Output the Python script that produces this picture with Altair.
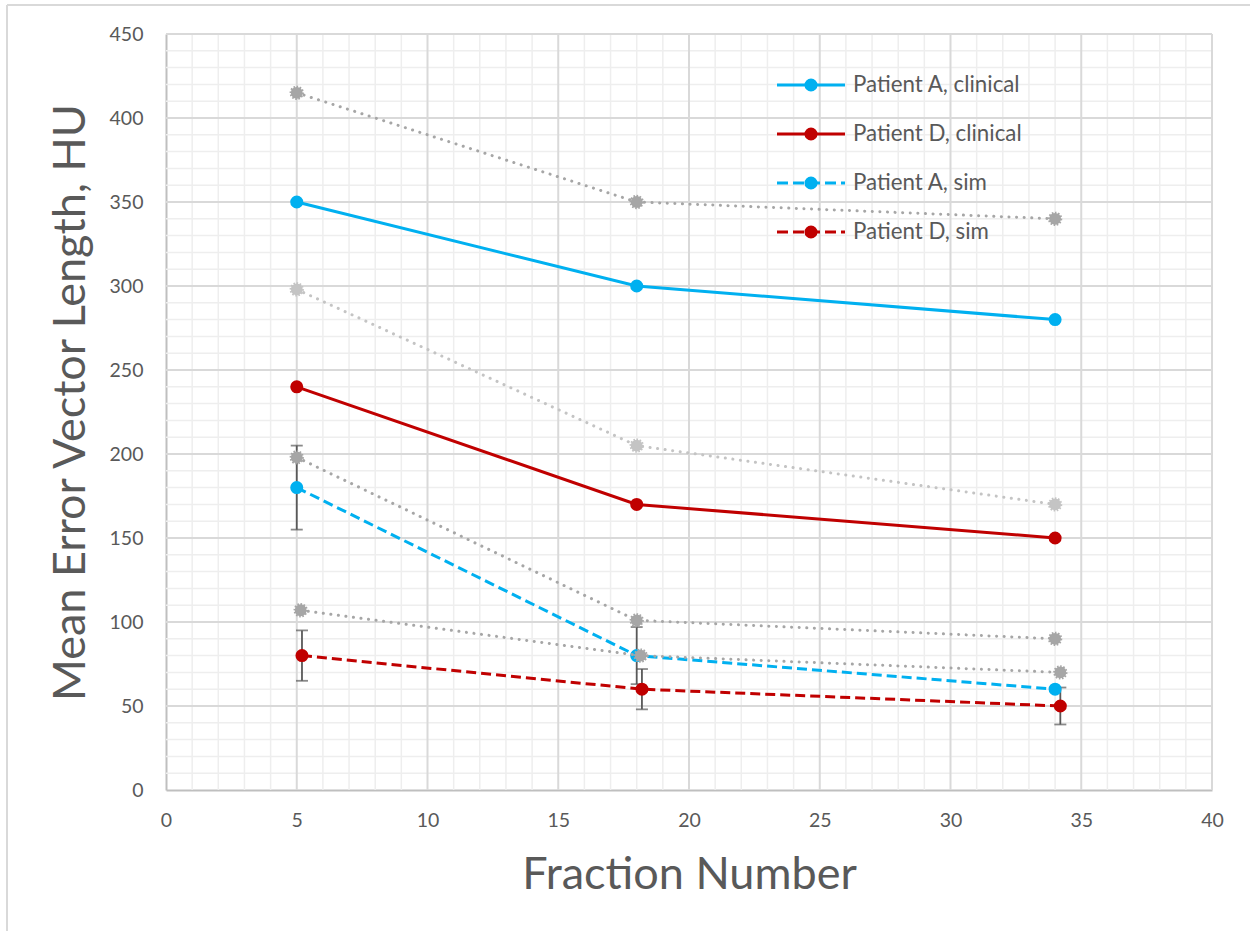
import altair as alt
import pandas as pd

# ---- data ---------------------------------------------------------------
fractions = [5, 18, 34]
patient_a_clinical = [350, 300, 280]
patient_d_clinical = [240, 170, 150]

sim_a_x = [5, 18, 34]
patient_a_sim = [180, 80, 60]
patient_a_sim_err = [25, 17, 0]

sim_d_x = [5.2, 18.2, 34.2]
patient_d_sim = [80, 60, 50]
patient_d_sim_err = [15, 12, 11]

ref_x = [5, 18, 34]
ref_x_shift = [5.15, 18.15, 34.2]
ref_1 = [415, 350, 340]
ref_2 = [298, 205, 170]
ref_3 = [198, 101, 90]
ref_4 = [107, 80, 70]

legend_names = ["Patient A, clinical", "Patient D, clinical",
                "Patient A, sim", "Patient D, sim"]

x_ticks = list(range(0, 41, 5))
y_ticks = list(range(0, 451, 50))

# ---- styling ------------------------------------------------------------
BLUE = "#00B0F0"
RED = "#C00000"
GREY = "#A6A6A6"
GREY_LIGHT = "#C4C4C4"
TEXT = "#595959"
FONT = "Lato"

W, H = 1046, 756
PAD = {"left": 166, "top": 34, "right": 38, "bottom": 141}

xs = alt.Scale(domain=[0, 40], nice=False, zero=False)
ys = alt.Scale(domain=[0, 450], nice=False, zero=False)

X_AXIS = alt.Axis(
    values=x_ticks, title="Fraction Number", grid=False, ticks=False,
    domainColor="#BFBFBF", domainWidth=2, labelFontSize=19.5, labelColor=TEXT,
    labelFont=FONT, labelPadding=21, labelFlush=False, titleFont=FONT,
    titleFontSize=45, titleFontWeight="normal", titleColor=TEXT, titlePadding=23)
Y_AXIS = alt.Axis(
    values=y_ticks, title="Mean Error Vector Length, HU", grid=False, ticks=False,
    domainColor="#BFBFBF", domainWidth=2, labelFontSize=19.5, labelColor=TEXT,
    labelFont=FONT, labelPadding=23, labelFlush=False, titleFont=FONT,
    titleFontSize=45, titleFontWeight="normal", titleColor=TEXT, titlePadding=16,
    titleY=368)


def frame(xv, yv, err=None):
    d = pd.DataFrame({"x": xv, "y": yv})
    if err is not None:
        d["err"] = err
        d["lo"] = [a - e for a, e in zip(yv, err)]
        d["hi"] = [a + e for a, e in zip(yv, err)]
        d = d[d["err"] > 0]
    return d


def xenc(field="x"):
    return alt.X(f"{field}:Q", scale=xs, axis=X_AXIS)


def yenc(field="y"):
    return alt.Y(f"{field}:Q", scale=ys, axis=Y_AXIS)


# ---- gridlines ----------------------------------------------------------
minor_x = [v for v in range(0, 41) if v % 5]
minor_y = [v for v in range(0, 451, 10) if v % 50]

grid = [
    alt.Chart(pd.DataFrame({"x": minor_x})).mark_rule(color="#EEEEEE", strokeWidth=1.5)
    .encode(x=xenc()),
    alt.Chart(pd.DataFrame({"y": minor_y})).mark_rule(color="#EEEEEE", strokeWidth=1.5)
    .encode(y=yenc()),
    alt.Chart(pd.DataFrame({"x": x_ticks[1:]})).mark_rule(color="#D9D9D9", strokeWidth=2)
    .encode(x=xenc()),
    alt.Chart(pd.DataFrame({"y": y_ticks[1:]})).mark_rule(color="#D9D9D9", strokeWidth=2)
    .encode(y=yenc()),
]


# ---- series -------------------------------------------------------------
def solid_series(xv, yv, color):
    d = frame(xv, yv)
    line = alt.Chart(d).mark_line(color=color, strokeWidth=3).encode(x=xenc(), y=yenc())
    pts = alt.Chart(d).mark_circle(color=color, size=170, opacity=1).encode(x=xenc(), y=yenc())
    return [line, pts]


def dashed_series(xv, yv, color):
    d = frame(xv, yv)
    line = alt.Chart(d).mark_line(color=color, strokeWidth=3, strokeDash=[10, 5]).encode(x=xenc(), y=yenc())
    pts = alt.Chart(d).mark_circle(color=color, size=170, opacity=1).encode(x=xenc(), y=yenc())
    return [line, pts]


def error_bars(xv, yv, err):
    d = frame(xv, yv, err)
    stem = alt.Chart(d).mark_rule(color=TEXT, strokeWidth=1.8).encode(
        x=xenc(), y=yenc("lo"), y2="hi:Q")
    cap_lo = alt.Chart(d).mark_tick(color=TEXT, orient="horizontal", size=12, thickness=1.8).encode(
        x=xenc(), y=yenc("lo"))
    cap_hi = alt.Chart(d).mark_tick(color=TEXT, orient="horizontal", size=12, thickness=1.8).encode(
        x=xenc(), y=yenc("hi"))
    return [stem, cap_lo, cap_hi]


def dotted_series(xv, yv, color):
    d = frame(xv, yv)
    line = alt.Chart(d).mark_line(color=color, strokeWidth=3, strokeDash=[0.1, 7.5],
                                  strokeCap="round").encode(x=xenc(), y=yenc())
    pts = alt.Chart(d).mark_circle(color=color, size=140, opacity=1, stroke=color,
                                   strokeWidth=2.5, strokeDash=[1.5, 1.5]).encode(x=xenc(), y=yenc())
    return [line, pts]


data_layers = (
    grid
    + error_bars(sim_a_x, patient_a_sim, patient_a_sim_err)
    + error_bars(sim_d_x, patient_d_sim, patient_d_sim_err)
    + solid_series(fractions, patient_a_clinical, BLUE)
    + solid_series(fractions, patient_d_clinical, RED)
    + dashed_series(sim_a_x, patient_a_sim, BLUE)
    + dashed_series(sim_d_x, patient_d_sim, RED)
    + dotted_series(ref_x, ref_1, GREY)
    + dotted_series(ref_x, ref_2, GREY_LIGHT)
    + dotted_series(ref_x, ref_3, GREY)
    + dotted_series(ref_x_shift, ref_4, GREY)
)
plot = alt.layer(*data_layers)

# ---- legend -------------------------------------------------------------
leg = pd.DataFrame({
    "name": legend_names,
    "row": [0, 1, 2, 3],
    "color": [BLUE, RED, BLUE, RED],
    "dash": ["solid", "solid", "dash", "dash"],
})
ly = alt.Y("row:Q", scale=alt.Scale(domain=[0, 3], range=[51, 198]), axis=None)
leg_line = alt.Chart(leg).mark_rule(strokeWidth=3).encode(
    x=alt.value(611), x2=alt.value(679), y=ly,
    color=alt.Color("color:N", scale=None),
    strokeDash=alt.StrokeDash("dash:N", scale=alt.Scale(domain=["solid", "dash"],
                                                        range=[[1, 0], [11, 5]]), legend=None),
)
leg_pt = alt.Chart(leg).mark_circle(size=170, opacity=1).encode(
    x=alt.value(645), y=ly, color=alt.Color("color:N", scale=None))
leg_txt = alt.Chart(leg).mark_text(align="left", baseline="middle", font=FONT,
                                   fontSize=22.3, color=TEXT).encode(
    x=alt.value(687), y=ly, text="name:N")

# outer frame of the chart area
frame_df = pd.DataFrame({"a": [0]})
border_top = alt.Chart(frame_df).mark_rule(color="#D9D9D9", strokeWidth=2).encode(
    x=alt.value(-159), x2=alt.value(1100), y=alt.value(-29))
border_left = alt.Chart(frame_df).mark_rule(color="#D9D9D9", strokeWidth=2).encode(
    x=alt.value(-159), y=alt.value(-29), y2=alt.value(920))

chart = alt.layer(plot, leg_line, leg_pt, leg_txt, border_top, border_left).resolve_scale(
    y="independent"
).properties(
    width=W, height=H, padding=PAD, autosize=alt.AutoSizeParams(type="none"),
    background="white",
).configure_view(stroke=None)

chart.save("out.html", embed_options={"renderer": "svg", "actions": False})
